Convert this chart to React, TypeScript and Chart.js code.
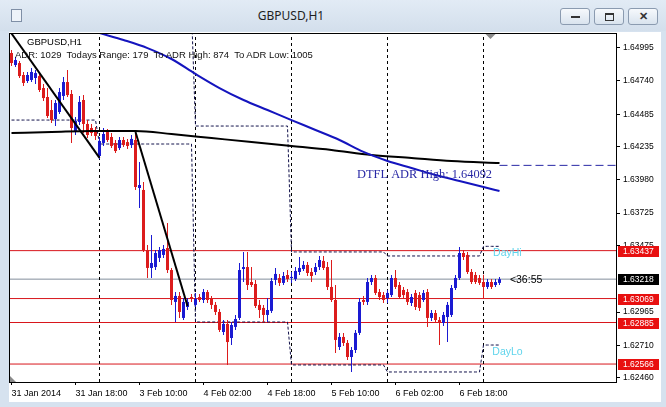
import React, { useEffect, useRef } from "react";
import { Chart, registerables } from "chart.js";

Chart.register(...registerables);

// ---------------- data ----------------
const barOpen = [
  1.64955, 1.64863, 1.64878, 1.64786, 1.6474, 1.64748, 1.64763, 1.64778, 1.64686, 1.64617,
  1.64517, 1.64448, 1.64502, 1.64625, 1.64732, 1.6464, 1.64356, 1.64425, 1.64594, 1.6441,
  1.64379, 1.64364, 1.64164, 1.64264, 1.64348, 1.6431, 1.64264, 1.64225, 1.64287, 1.64271,
  1.64248, 1.64287, 1.63918, 1.63903, 1.63442, 1.63304, 1.63311, 1.63381, 1.63404, 1.63457,
  1.63288, 1.63043, 1.63089, 1.6292, 1.63004, 1.63081, 1.6302, 1.63081, 1.63058, 1.63119,
  1.63066, 1.6302, 1.62966, 1.62812, 1.62874, 1.62766, 1.62851, 1.6292, 1.63296, 1.63311,
  1.63196, 1.63181, 1.6302, 1.62997, 1.62943, 1.62974, 1.63212, 1.63227, 1.63189, 1.6325,
  1.63227, 1.63219, 1.63273, 1.63296, 1.63327, 1.63273, 1.63273, 1.63311, 1.63358, 1.63311,
  1.63158, 1.63058, 1.62697, 1.62774, 1.62728, 1.6262, 1.62674, 1.62805, 1.63058, 1.63043,
  1.63196, 1.63227, 1.63119, 1.63096, 1.63073, 1.63096, 1.63227, 1.63173, 1.63135, 1.63119,
  1.63035, 1.63112, 1.63096, 1.63058, 1.63119, 1.6292, 1.62958, 1.62904, 1.62881, 1.62927,
  1.62943, 1.6315, 1.63227, 1.63419, 1.63404, 1.63273, 1.6325, 1.63227, 1.63196, 1.63158,
  1.63196, 1.63173, 1.63189,
];
const barHigh = [
  1.64978, 1.64924, 1.64894, 1.64809, 1.64809, 1.6484, 1.64824, 1.64809, 1.64717, 1.64686,
  1.64594, 1.64594, 1.64686, 1.64771, 1.64824, 1.64671, 1.64463, 1.64625, 1.64632, 1.6444,
  1.6441, 1.64387, 1.6431, 1.64379, 1.64371, 1.64341, 1.64287, 1.6431, 1.6431, 1.64295,
  1.64325, 1.64341, 1.64118, 1.63964, 1.6348, 1.63557, 1.63442, 1.63465, 1.6348, 1.63649,
  1.63304, 1.63119, 1.63119, 1.63073, 1.63073, 1.63104, 1.63112, 1.63104, 1.63143, 1.63135,
  1.63089, 1.63043, 1.62989, 1.62904, 1.62904, 1.62889, 1.62943, 1.63342, 1.63427, 1.63427,
  1.63311, 1.63212, 1.63058, 1.6302, 1.63073, 1.63227, 1.63304, 1.63258, 1.63273, 1.63288,
  1.63273, 1.63311, 1.63388, 1.63358, 1.6335, 1.63304, 1.63342, 1.63396, 1.63396, 1.6335,
  1.63365, 1.63173, 1.62805, 1.62805, 1.62751, 1.62697, 1.62828, 1.63073, 1.63089, 1.63227,
  1.6325, 1.6325, 1.63143, 1.63119, 1.63135, 1.6325, 1.63288, 1.63196, 1.63158, 1.63143,
  1.63104, 1.63135, 1.63119, 1.63135, 1.63143, 1.62981, 1.62981, 1.62927, 1.62966, 1.63043,
  1.63173, 1.6325, 1.63465, 1.63442, 1.63427, 1.63296, 1.63273, 1.6325, 1.63252, 1.63219,
  1.63219, 1.63219, 1.63235,
];
const barLow = [
  1.64855, 1.64847, 1.64763, 1.64702, 1.64725, 1.64732, 1.64717, 1.64655, 1.64586, 1.64456,
  1.64417, 1.64394, 1.64486, 1.64594, 1.64617, 1.64264, 1.64325, 1.64402, 1.64341, 1.64302,
  1.64318, 1.64287, 1.64141, 1.64241, 1.64271, 1.64225, 1.64187, 1.6421, 1.64233, 1.64218,
  1.64225, 1.63903, 1.63765, 1.63427, 1.63227, 1.63227, 1.63288, 1.6335, 1.63381, 1.63265,
  1.6302, 1.62889, 1.6292, 1.62904, 1.62981, 1.63043, 1.63004, 1.63043, 1.63035, 1.63035,
  1.62989, 1.62943, 1.62812, 1.62789, 1.62559, 1.62712, 1.62828, 1.62904, 1.63196, 1.63135,
  1.63158, 1.62997, 1.6292, 1.62889, 1.62889, 1.62958, 1.63173, 1.63166, 1.63173, 1.63196,
  1.63189, 1.63204, 1.6325, 1.63281, 1.63242, 1.63196, 1.6325, 1.63288, 1.63288, 1.63135,
  1.63043, 1.62651, 1.62674, 1.62705, 1.62597, 1.62505, 1.62651, 1.62789, 1.6302, 1.6302,
  1.63173, 1.63096, 1.63058, 1.63035, 1.63035, 1.63081, 1.63143, 1.63066, 1.63073, 1.6302,
  1.63012, 1.62981, 1.62974, 1.63043, 1.62851, 1.62897, 1.62881, 1.62712, 1.62858, 1.62735,
  1.62927, 1.63135, 1.63212, 1.63365, 1.63258, 1.63181, 1.63181, 1.63173, 1.63073, 1.63143,
  1.63143, 1.63158, 1.63173,
];
const barClose = [
  1.64878, 1.64901, 1.64778, 1.64725, 1.64786, 1.64809, 1.64801, 1.64671, 1.64609, 1.64471,
  1.6444, 1.64571, 1.64655, 1.64732, 1.64632, 1.64379, 1.64433, 1.64579, 1.6441, 1.64325,
  1.64341, 1.64318, 1.64279, 1.64333, 1.64287, 1.64241, 1.64202, 1.64287, 1.64248, 1.64241,
  1.64295, 1.63926, 1.63941, 1.63442, 1.63304, 1.63342, 1.63419, 1.63442, 1.6345, 1.63288,
  1.63058, 1.63089, 1.62966, 1.63043, 1.63043, 1.63066, 1.63066, 1.63058, 1.63119, 1.63058,
  1.6302, 1.62966, 1.62828, 1.62874, 1.62735, 1.62866, 1.62912, 1.63288, 1.63311, 1.63173,
  1.63173, 1.63012, 1.62981, 1.62943, 1.62981, 1.63204, 1.63258, 1.63189, 1.63242, 1.63219,
  1.63235, 1.63281, 1.63304, 1.63327, 1.63265, 1.63242, 1.63311, 1.63365, 1.63304, 1.63158,
  1.63058, 1.62751, 1.62774, 1.62728, 1.6262, 1.62674, 1.62805, 1.63043, 1.63043, 1.63196,
  1.63227, 1.63112, 1.63081, 1.63058, 1.63112, 1.63227, 1.63158, 1.63081, 1.63096, 1.63043,
  1.63081, 1.63004, 1.62997, 1.63112, 1.6292, 1.62958, 1.62904, 1.62881, 1.62943, 1.6302,
  1.6315, 1.63227, 1.63419, 1.63388, 1.63273, 1.63196, 1.63196, 1.63189, 1.63158, 1.63196,
  1.63158, 1.63196, 1.63218,
];

// moving averages (bar index / value)
const maBlueIdx = [18, 22, 28, 34, 40, 46, 52, 58, 64, 70, 76, 82, 88, 94, 100, 106, 112, 118, 122];
const maBlueVal = [
  1.65147, 1.65109, 1.65055, 1.64993, 1.64909, 1.64794, 1.64686, 1.64594, 1.64517, 1.6444,
  1.64364, 1.64287, 1.64195, 1.64126, 1.64072, 1.64018, 1.63972, 1.63926, 1.63895,
];
const maBlackIdx = [0, 10, 20, 31, 40, 50, 60, 70, 80, 90, 100, 110, 122];
const maBlackVal = [
  1.64341, 1.64348, 1.64356, 1.64356, 1.64333, 1.64302, 1.64271, 1.64241, 1.6421, 1.64172,
  1.64149, 1.64126, 1.6411,
];

// trend lines [startIdx, startPrice, endIdx, endPrice]
const trendLines = [
  [0, 1.65105, 22, 1.64149],
  [31, 1.64348, 44, 1.63012],
];

// previous-day high / low levels, by trading day
const dayStartIdx = [0, 22, 46, 70, 94, 118];
const prevDayHigh = [1.6565, 1.6528, 1.64394, 1.63427, 1.63396, 1.6347];
const prevDayLow = [1.6444, 1.64256, 1.62889, 1.62559, 1.62505, 1.62712];
const lastIdx = 122;

const redLevels = [1.63437, 1.63069, 1.62885, 1.62566];
const bidPrice = 1.63218;
const adrHigh = 1.64092;

const xTickIdx = [0, 16, 32, 48, 64, 80, 96, 112];
const xTickLabels = [
  "31 Jan 2014", "31 Jan 18:00", "3 Feb 10:00", "4 Feb 02:00",
  "4 Feb 18:00", "5 Feb 10:00", "6 Feb 02:00", "6 Feb 18:00",
];
const yTickVals = [1.6246, 1.6271, 1.62965, 1.63475, 1.63725, 1.6398, 1.64235, 1.64485, 1.6474, 1.64995];

// ---------------- style ----------------
const X_MIN = -0.375;
const X_MAX = 151.125;
const Y_MIN = 1.62428;
const Y_MAX = 1.65101;
const BULL = "#1a1ad2";
const BEAR = "#dc1c1c";
const RED_LINE = "#d8161c";
const AXIS_FONT = "Liberation Sans, Arial, sans-serif";

function buildSteps(levels: number[]) {
  const pts: { x: number; y: number }[] = [];
  for (let i = 0; i <= lastIdx; i++) {
    let d = 0;
    for (let k = 0; k < dayStartIdx.length; k++) if (dayStartIdx[k] <= i) d = k;
    pts.push({ x: i, y: levels[d] });
  }
  return pts;
}

const overlayPlugin = {
  id: "mtOverlay",
  afterDraw(chart: any) {
    const { ctx, chartArea: a, scales } = chart;
    const xs = scales.x;
    const ys = scales.y;
    ctx.save();
    // plot frame
    ctx.strokeStyle = "#000";
    ctx.lineWidth = 1;
    ctx.strokeRect(a.left - 0.5, a.top - 0.5, a.right - a.left + 1, a.bottom - a.top + 1);

    // chart-shift marker (top) and scroll marker (bottom-left)
    ctx.fillStyle = "#8a8a8a";
    const sx = Math.round(xs.getPixelForValue(lastIdx - 2.5)) + 0.5;
    ctx.beginPath();
    ctx.moveTo(sx - 5, a.top);
    ctx.lineTo(sx + 5, a.top);
    ctx.lineTo(sx, a.top + 5);
    ctx.closePath();
    ctx.fill();
    ctx.beginPath();
    ctx.moveTo(a.left, a.bottom - 6);
    ctx.lineTo(a.left, a.bottom);
    ctx.lineTo(a.left + 6, a.bottom);
    ctx.closePath();
    ctx.fill();

    // texts anchored to data
    ctx.textBaseline = "top";
    ctx.textAlign = "left";
    ctx.fillStyle = "rgb(40,40,165)";
    ctx.font = "12.4px 'Liberation Serif', 'Times New Roman', serif";
    ctx.fillText("DTFL ADR High: 1.64092", xs.getPixelForValue(86.4), ys.getPixelForValue(adrHigh) + 3);

    ctx.font = "10.5px " + AXIS_FONT;
    ctx.fillStyle = "rgb(95,212,236)";
    ctx.fillText("DayHi", xs.getPixelForValue(120.4), ys.getPixelForValue(prevDayHigh[5]) + 2);
    ctx.fillText("DayLo", xs.getPixelForValue(120.2), ys.getPixelForValue(prevDayLow[5]) + 2);

    ctx.fillStyle = "#000";
    ctx.textBaseline = "middle";
    ctx.fillText("<36:55", xs.getPixelForValue(124.6), ys.getPixelForValue(bidPrice) + 1);

    // price tags on the axis
    ctx.font = "8.5px " + AXIS_FONT;
    const tag = (v: number, bg: string) => {
      const y = Math.round(ys.getPixelForValue(v));
      ctx.fillStyle = bg;
      ctx.fillRect(a.right + 2, y - 5, 41, 11);
      ctx.fillStyle = "#fff";
      ctx.fillText(v.toFixed(5), a.right + 7, y + 0.5);
    };
    redLevels.forEach((v) => tag(v, "rgb(232,16,16)"));
    tag(bidPrice, "#000");
    ctx.restore();
  },
};

export default function App() {
  const ref = useRef<HTMLCanvasElement>(null);

  useEffect(() => {
    const colors = barOpen.map((o, i) => (barClose[i] >= o ? BULL : BEAR));
    const hline = (v: number) => [
      { x: X_MIN, y: v },
      { x: X_MAX, y: v },
    ];
    const lineBase = {
      type: "line" as const,
      pointRadius: 0,
      fill: false,
      tension: 0,
    };
    const datasets: any[] = [];

    trendLines.forEach((t) =>
      datasets.push({
        ...lineBase,
        data: [
          { x: t[0], y: t[1] },
          { x: t[2], y: t[3] },
        ],
        borderColor: "#000",
        borderWidth: 2,
      })
    );
    datasets.push({
      ...lineBase,
      data: maBlueIdx.map((x, i) => ({ x, y: maBlueVal[i] })),
      borderColor: "rgb(20,20,190)",
      borderWidth: 2,
      cubicInterpolationMode: "monotone",
    });
    datasets.push({
      ...lineBase,
      data: maBlackIdx.map((x, i) => ({ x, y: maBlackVal[i] })),
      borderColor: "#000",
      borderWidth: 2,
      cubicInterpolationMode: "monotone",
    });
    datasets.push({
      ...lineBase,
      data: [
        { x: lastIdx, y: adrHigh },
        { x: X_MAX, y: adrHigh },
      ],
      borderColor: "rgb(40,40,165)",
      borderWidth: 1,
      borderDash: [8, 4],
    });
    // candles
    datasets.push({
      type: "bar",
      data: barOpen.map((o, i) => ({ x: i, y: [o, barClose[i]] })),
      backgroundColor: colors,
      borderWidth: 0,
      barThickness: 3,
      minBarLength: 1,
      grouped: false,
      inflateAmount: 0,
    });
    datasets.push({
      type: "bar",
      data: barLow.map((l, i) => ({ x: i, y: [l, barHigh[i]] })),
      backgroundColor: colors,
      borderWidth: 0,
      barThickness: 1,
      grouped: false,
      inflateAmount: 0,
    });
    // previous day hi/lo steps
    [prevDayHigh, prevDayLow].forEach((lv) =>
      datasets.push({
        ...lineBase,
        data: buildSteps(lv),
        borderColor: "#10104a",
        borderWidth: 1,
        borderDash: [3, 2],
      })
    );
    // day separators
    dayStartIdx.slice(1).forEach((s) =>
      datasets.push({
        ...lineBase,
        data: [
          { x: s, y: Y_MIN },
          { x: s, y: Y_MAX },
        ],
        borderColor: "#000",
        borderWidth: 1,
        borderDash: [3, 3],
      })
    );
    // horizontal levels
    redLevels.forEach((v) =>
      datasets.push({ ...lineBase, data: hline(v), borderColor: RED_LINE, borderWidth: 1 })
    );
    datasets.push({ ...lineBase, data: hline(bidPrice), borderColor: "rgb(130,142,156)", borderWidth: 1 });

    const chart = new Chart(ref.current as HTMLCanvasElement, {
      type: "bar",
      data: { datasets },
      options: {
        responsive: false,
        animation: false,
        devicePixelRatio: 1,
        events: [],
        layout: { padding: { left: 1, top: 2, right: 0, bottom: 0 } },
        plugins: { legend: { display: false }, tooltip: { enabled: false } },
        scales: {
          x: {
            type: "linear",
            min: X_MIN,
            max: X_MAX,
            offset: false,
            grid: { display: true, drawOnChartArea: false, drawTicks: true, tickLength: 3, color: "#000", offset: false },
            border: { display: false },
            ticks: {
              align: "start",
              autoSkip: false,
              maxRotation: 0,
              padding: 3,
              color: "#000",
              font: { family: AXIS_FONT, size: 9 },
              callback: (v: any) => {
                const k = xTickIdx.indexOf(Number(v));
                return k >= 0 ? xTickLabels[k] : "";
              },
            },
            afterBuildTicks: (s: any) => {
              s.ticks = xTickIdx.map((v) => ({ value: v }));
            },
            afterFit: (s: any) => {
              s.height = 20;
              s.paddingLeft = 0;
              s.paddingRight = 0;
            },
          },
          y: {
            type: "linear",
            position: "right",
            min: Y_MIN,
            max: Y_MAX,
            grid: { display: true, drawOnChartArea: false, drawTicks: true, tickLength: 4, color: "#000" },
            border: { display: false },
            ticks: {
              padding: 3,
              color: "#000",
              font: { family: AXIS_FONT, size: 8.5 },
              callback: (v: any) => Number(v).toFixed(5),
            },
            afterBuildTicks: (s: any) => {
              s.ticks = yTickVals.map((v) => ({ value: v }));
            },
            afterFit: (s: any) => {
              s.width = 45;
              s.paddingTop = 0;
              s.paddingBottom = 0;
            },
          },
        },
      } as any,
      plugins: [overlayPlugin],
    });
    return () => chart.destroy();
  }, []);

  const btn = (left: number, glyph: React.ReactNode) => (
    <div
      style={{
        position: "absolute",
        left,
        top: 8,
        width: 30,
        height: 17,
        boxSizing: "border-box",
        border: "1px solid #8b9bb0",
        borderRadius: 3,
        background: "linear-gradient(#f6f9fc, #d9e3ee)",
      }}
    >
      {glyph}
    </div>
  );

  return (
    <div
      style={{
        position: "fixed",
        left: 0,
        top: 0,
        width: 666,
        height: 407,
        overflow: "hidden",
        background: "#d6e2ef",
        fontFamily: AXIS_FONT,
      }}
    >
      <div
        style={{
          position: "absolute",
          left: 0,
          top: 0,
          width: 666,
          height: 31,
          background: "linear-gradient(#e2ebf5, #d3dfec)",
        }}
      />
      <div
        style={{
          position: "absolute",
          left: 11,
          top: 9,
          width: 11,
          height: 13,
          border: "1px solid #7f8fa6",
          background: "#eef3f9",
          boxSizing: "border-box",
        }}
      />
      <div
        style={{
          position: "absolute",
          left: 200,
          width: 182,
          top: 7,
          textAlign: "center",
          font: "12px 'Noto Sans', 'Open Sans', sans-serif",
          color: "#1e1e1e",
        }}
      >
        GBPUSD,H1
      </div>
      {btn(560, <div style={{ position: "absolute", left: 10, top: 7, width: 9, height: 2, border: "1px solid #333", boxSizing: "border-box" }} />)}
      {btn(594, <div style={{ position: "absolute", left: 10, top: 4, width: 9, height: 8, border: "1px solid #333", borderTopWidth: 2, boxSizing: "border-box" }} />)}
      {btn(628, <div style={{ position: "absolute", left: 0, top: 0, width: 28, textAlign: "center", font: "bold 11px sans-serif", lineHeight: "15px", color: "#333" }}>✕</div>)}

      <div
        style={{
          position: "absolute",
          left: 9,
          top: 32,
          width: 652,
          height: 370,
          background: "#fff",
        }}
      >
        <canvas ref={ref} width={652} height={370} style={{ display: "block", width: 652, height: 370 }} />
        <div
          style={{
            position: "absolute",
            left: 18,
            top: 4,
            font: "9.5px " + AXIS_FONT,
            color: "#000",
            whiteSpace: "pre",
          }}
        >
          GBPUSD,H1
        </div>
        <div
          style={{
            position: "absolute",
            left: 6,
            top: 17,
            font: "9.5px " + AXIS_FONT,
            color: "#111",
            whiteSpace: "pre",
          }}
        >
          {"ADR: 1029  Todays Range: 179  To ADR High: 874  To ADR Low: 1005"}
        </div>
      </div>
    </div>
  );
}
